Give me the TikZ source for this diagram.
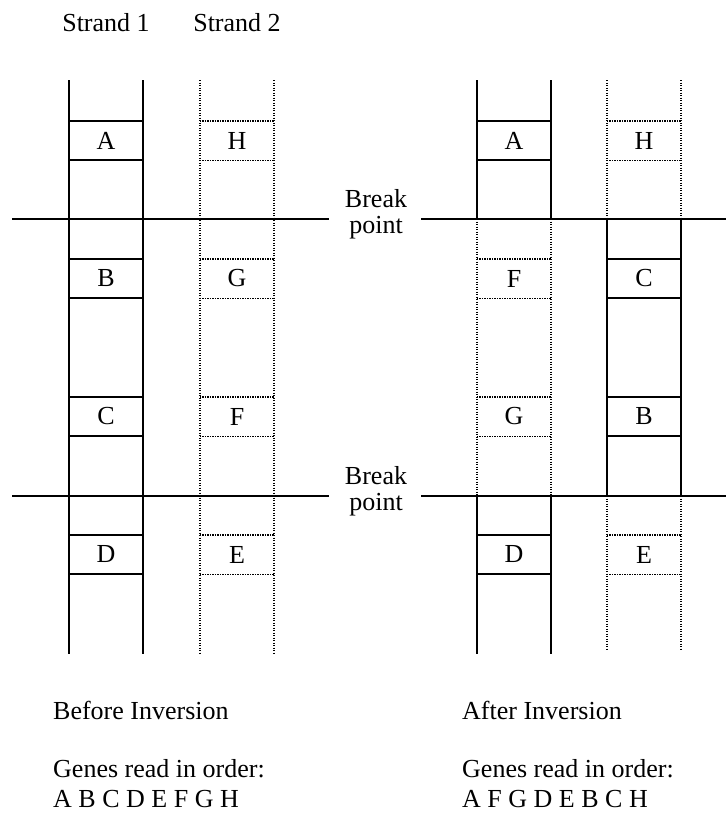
\documentclass[tikz,border=0pt]{standalone}
\usepackage{fontspec}
\setmainfont{Liberation Serif}
\usepackage{tikz}
\usetikzlibrary{positioning}

\begin{document}
\begin{tikzpicture}[x=1pt,y=-1pt,font=\fontsize{26}{30}\selectfont,inner sep=0pt]
  \tikzstyle{full}=[line width=1.6pt]
  \tikzstyle{dots}=[line width=1.4pt,dash pattern=on 1.4pt off 1.1pt]
  \tikzstyle{gene}=[minimum width=74pt,minimum height=39pt,inner sep=0pt]
  \useasboundingbox (0,0) rectangle (726,814);

  \node[anchor=base] (str1) at (106,31) {Strand 1};
  \node[anchor=base] (str2) at (237,31) {Strand 2};

  % before inversion
  \draw[full] (69,80) -- (69,654) (143,80) -- (143,654);
  \draw[dots] (200,80) -- (200,654) (274,80) -- (274,654);

  % after inversion
  \draw[full] (477,80) -- (477,219) (551,80) -- (551,219);
  \draw[full] (477,496) -- (477,654) (551,496) -- (551,654);
  \draw[dots] (477,219) -- (477,496) (551,219) -- (551,496);
  \draw[dots] (607,80) -- (607,219) (681,80) -- (681,219);
  \draw[dots] (607,496) -- (607,650) (681,496) -- (681,650);
  \draw[full] (607,219) -- (607,496) (681,219) -- (681,496);

  % break lines
  \foreach \y/\n in {219/1,496/2} {
    \draw[full] (12,\y) -- (329,\y);
    \draw[full] (421,\y) -- (726,\y);
    \node[anchor=base] (brk\n) at (376,\y-12) {Break};
    \node[anchor=base] (pt\n) at ([yshift=-26pt]brk\n.base) {point};
  }

  % genes
  \foreach \g/\x/\y/\s in {A/106/140.5/full,H/237/140.5/dots,B/106/278.5/full,G/237/278.5/dots,
                           C/106/416.5/full,F/237/416.5/dots,D/106/554.5/full,E/237/554.5/dots} {
    \node[gene] (l\g) at (\x,\y) {\g};
    \draw[\s] (l\g.north west) -- (l\g.north east) (l\g.south west) -- (l\g.south east);
  }
  \foreach \g/\x/\y/\s in {A/514/140.5/full,H/644/140.5/dots,F/514/278.5/dots,C/644/278.5/full,
                           G/514/416.5/dots,B/644/416.5/full,D/514/554.5/full,E/644/554.5/dots} {
    \node[gene] (r\g) at (\x,\y) {\g};
    \draw[\s] (r\g.north west) -- (r\g.north east) (r\g.south west) -- (r\g.south east);
  }

  \node[anchor=base west] (bef) at (53,719) {Before Inversion};
  \node[anchor=base west] (ordl) at (53,777) {Genes read in order:};
  \node[anchor=base west] (seql) at (53,807) {A B C D E F G H};
  \node[anchor=base west] (aft) at (462,719) {After Inversion};
  \node[anchor=base west] (ordr) at (462,777) {Genes read in order:};
  \node[anchor=base west] (seqr) at (462,807) {A F G D E B C H};
\end{tikzpicture}
\end{document}
